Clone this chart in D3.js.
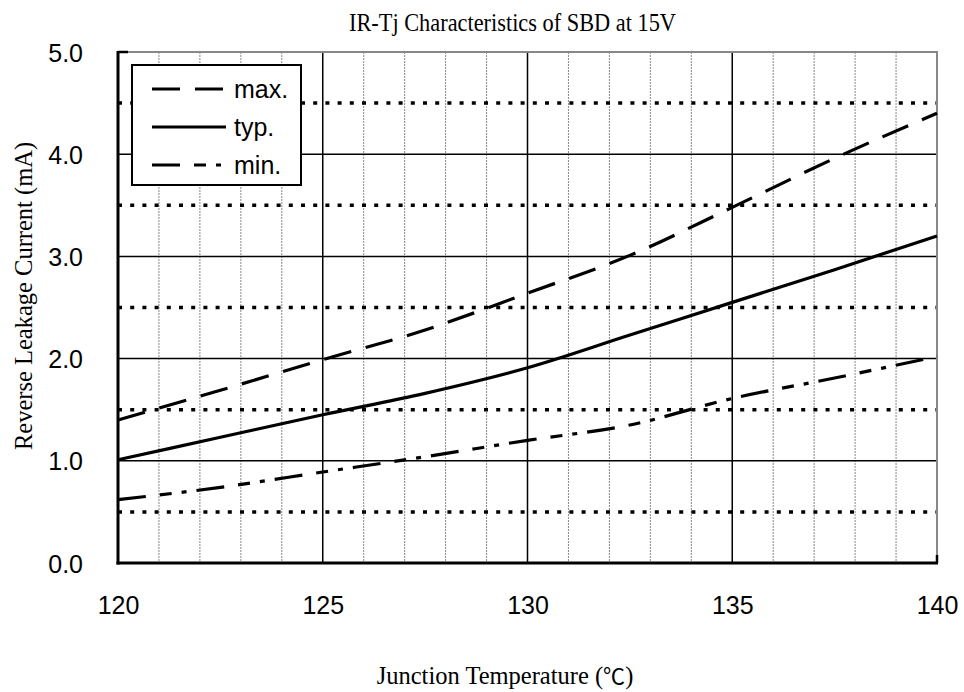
<!DOCTYPE html>
<html><head><meta charset="utf-8">
<script src="https://cdn.jsdelivr.net/npm/d3@7"></script>
<style>body{margin:0;background:#fff}</style>
</head><body>
<svg id="c" width="964" height="692"></svg>
<script>
const temps = [120, 122.5, 125, 127.5, 130, 132.5, 135, 137.5, 140];
const maxVals = [1.40, 1.69, 1.99, 2.28, 2.64, 3.01, 3.48, 3.96, 4.40];
const typVals = [1.01, 1.23, 1.45, 1.66, 1.91, 2.23, 2.55, 2.87, 3.20];
const minVals = [0.62, 0.74, 0.89, 1.04, 1.20, 1.35, 1.61, 1.81, 2.02];
const xTicks = [120, 125, 130, 135, 140];
const yTicks = [0, 1, 2, 3, 4, 5];
const yDotted = [0.5, 1.5, 2.5, 3.5, 4.5];
const xMinor = d3.range(121, 140).filter(v => v % 5 !== 0);
const series = [
  {name: "max.", vals: maxVals, dash: "28,15"},
  {name: "typ.", vals: typVals, dash: null},
  {name: "min.", vals: minVals, dash: "28,14,12,10,5,10"}
];

const svg = d3.select("#c");
const L = 118, R = 937, T = 52, B = 563;
const x = d3.scaleLinear().domain([120, 140]).range([L, R]);
const y = d3.scaleLinear().domain([0, 5]).range([B, T]);
const g = svg.append("g");
const SANS = "Liberation Sans, Arial, sans-serif";
const SERIF = "Liberation Serif, Times New Roman, serif";

// minor vertical grid
g.selectAll(".vm").data(xMinor).enter().append("line")
  .attr("x1", d => x(d)).attr("x2", d => x(d)).attr("y1", T).attr("y2", B)
  .attr("stroke", "#888").attr("stroke-width", 1).attr("stroke-dasharray", "2,1");
// major vertical
g.selectAll(".vM").data([125, 130, 135]).enter().append("line")
  .attr("x1", d => x(d)).attr("x2", d => x(d)).attr("y1", T).attr("y2", B)
  .attr("stroke", "#000").attr("stroke-width", 1.5);
// horizontal solid
g.selectAll(".hM").data([1, 2, 3, 4]).enter().append("line")
  .attr("x1", L).attr("x2", R).attr("y1", d => y(d)).attr("y2", d => y(d))
  .attr("stroke", "#000").attr("stroke-width", 1.5);
// horizontal dotted
g.selectAll(".hd").data(yDotted).enter().append("line")
  .attr("x1", L).attr("x2", R).attr("y1", d => y(d)).attr("y2", d => y(d))
  .attr("stroke", "#000").attr("stroke-width", 3.5).attr("stroke-dasharray", "4,8.2");
// top/right frame
g.append("path").attr("d", `M${L},${T}H${R}V${B}`).attr("fill", "none")
  .attr("stroke", "#888").attr("stroke-width", 2);

// curves
const line = d3.line().x((d, i) => x(temps[i])).y(d => y(d)).curve(d3.curveMonotoneX);
series.forEach(s => {
  g.append("path").attr("d", line(s.vals)).attr("fill", "none")
    .attr("stroke", "#000").attr("stroke-width", 3.2)
    .attr("stroke-dasharray", s.dash);
});

// axes
const xAxis = d3.axisBottom(x).tickValues(xTicks).tickSize(0).tickPadding(0).tickFormat(d3.format("d"));
const xa = svg.append("g").attr("transform", `translate(0,${B})`).call(xAxis);
xa.select(".domain").remove();
xa.selectAll("text").attr("y", 51).attr("dy", 0)
  .attr("font-family", SANS).attr("font-size", 25).attr("fill", "#000");
const yAxis = d3.axisLeft(y).tickValues(yTicks).tickSize(0).tickPadding(0).tickFormat(d3.format(".1f"));
const ya = svg.append("g").attr("transform", `translate(${L},0)`).call(yAxis);
ya.select(".domain").remove();
ya.selectAll("text").attr("x", -35).attr("dy", "0.36em")
  .attr("font-family", SANS).attr("font-size", 25).attr("fill", "#000");
svg.append("line").attr("x1", L).attr("x2", L).attr("y1", T - 1).attr("y2", B + 1.5).attr("stroke", "#000").attr("stroke-width", 3);
svg.append("line").attr("x1", L - 1.5).attr("x2", R + 1).attr("y1", B).attr("y2", B).attr("stroke", "#000").attr("stroke-width", 3);
svg.append("line").attr("x1", L).attr("x2", L + 10).attr("y1", T).attr("y2", T).attr("stroke", "#000").attr("stroke-width", 2.5);
svg.append("line").attr("x1", R).attr("x2", R).attr("y1", B - 8).attr("y2", B).attr("stroke", "#000").attr("stroke-width", 2.5);

// legend
const lg = svg.append("g");
lg.append("rect").attr("x", 132).attr("y", 65).attr("width", 169).attr("height", 120)
  .attr("fill", "#fff").attr("stroke", "#000").attr("stroke-width", 2);
series.forEach((s, i) => {
  const yy = 89 + i * 38;
  lg.append("line").attr("x1", 152).attr("x2", 226).attr("y1", yy).attr("y2", yy)
    .attr("stroke", "#000").attr("stroke-width", 3.2).attr("stroke-dasharray", s.dash);
  lg.append("text").attr("x", 234).attr("y", yy).attr("dy", "0.35em")
    .attr("font-family", SANS).attr("font-size", 25).text(s.name);
});

// titles
svg.append("text").attr("x", 512.5).attr("y", 31).attr("text-anchor", "middle")
  .attr("font-family", SERIF).attr("font-size", 25)
  .attr("textLength", 327).attr("lengthAdjust", "spacingAndGlyphs")
  .text("IR-Tj Characteristics of SBD at 15V");
const xt = svg.append("text").attr("x", 505).attr("y", 684).attr("text-anchor", "middle")
  .attr("font-family", SERIF).attr("font-size", 24.5);
xt.append("tspan").text("Junction Temperature (");
xt.append("tspan").attr("font-family", "Noto Sans CJK JP, sans-serif").attr("font-size", 22).text("℃");
xt.append("tspan").text(")");
svg.append("text").attr("transform", "translate(32,296) rotate(-90)").attr("text-anchor", "middle")
  .attr("font-family", SERIF).attr("font-size", 24.5)
  .text("Reverse Leakage Current (mA)");
</script>
</body></html>
